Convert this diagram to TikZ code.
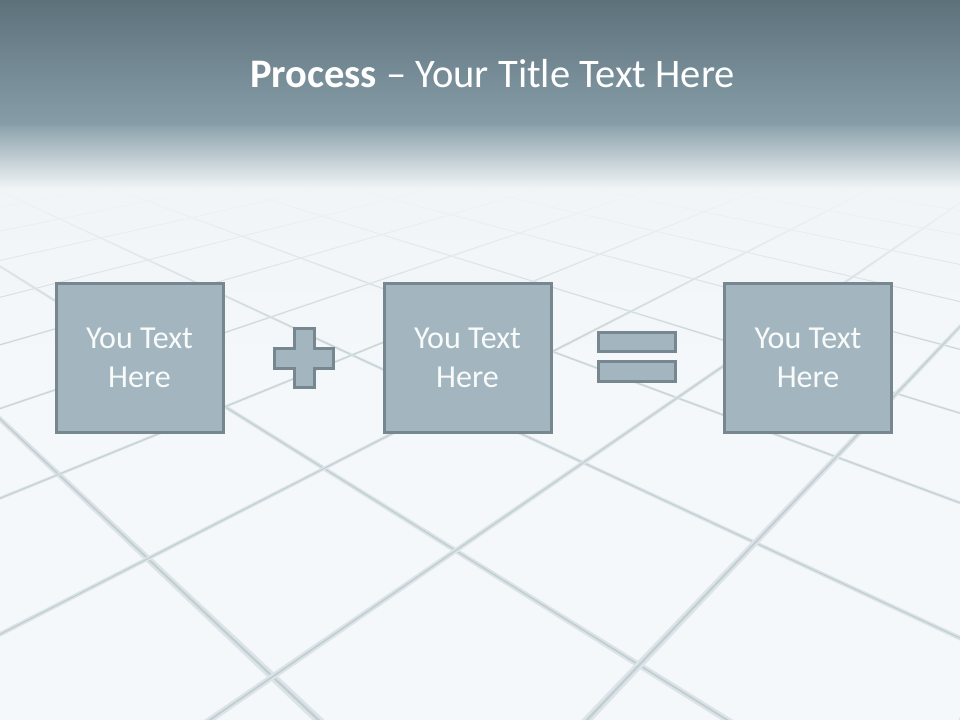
\documentclass[tikz,border=0pt]{standalone}
\usepackage{fontspec}
\setmainfont{Carlito}
\usetikzlibrary{fadings}
\definecolor{tilebg}{HTML}{F4F8FA}
\definecolor{groutlight}{HTML}{DCE4E8}
\definecolor{groutdark}{HTML}{C3CED3}
\definecolor{fogc}{HTML}{F1F5F7}
\definecolor{bantop}{HTML}{5D717B}
\definecolor{banbot}{HTML}{879EA9}
\definecolor{fadetop}{HTML}{8CA2AC}
\definecolor{boxfill}{HTML}{A3B6BF}
\definecolor{boxline}{HTML}{76878F}
\tikzfading[name=fogfade, top color=transparent!0, bottom color=transparent!100]
\begin{document}
\begin{tikzpicture}[x=0.75pt,y=-0.75pt,
  declare function={ax(\u,\y)=-475+(0.513+0.545*\u)*(\y+30); bx(\v,\y)=1298+(-2.96+0.503*\v)*(\y+30);},
  procbox/.style={draw=boxline, fill=boxfill, line width=2.25pt, minimum width=125.25pt, minimum height=111pt, inner sep=0pt, align=center, text=white!94!boxfill, font=\fontsize{24}{28.8}\selectfont},
  opshape/.style={draw=boxline, fill=boxfill, line width=2.25pt}]
\useasboundingbox (0,0) rectangle (960,720);
\fill[tilebg] (0,0) rectangle (960,720);
\begin{scope}
\clip (0,0) rectangle (960,720);
\foreach \u in {1,...,26}{
  \fill[groutlight] ({ax(\u-0.015,110)},110) -- ({ax(\u+0.015,110)},110) -- ({ax(\u+0.015,740)},740) -- ({ax(\u-0.015,740)},740) -- cycle;
  \fill[groutdark] ({ax(\u-0.0045,110)},110) -- ({ax(\u+0.0045,110)},110) -- ({ax(\u+0.0045,740)},740) -- ({ax(\u-0.0045,740)},740) -- cycle;
}
\foreach \v in {-20,...,5}{
  \fill[groutlight] ({bx(\v-0.015,110)},110) -- ({bx(\v+0.015,110)},110) -- ({bx(\v+0.015,740)},740) -- ({bx(\v-0.015,740)},740) -- cycle;
  \fill[groutdark] ({bx(\v-0.0045,110)},110) -- ({bx(\v+0.0045,110)},110) -- ({bx(\v+0.0045,740)},740) -- ({bx(\v-0.0045,740)},740) -- cycle;
}
\end{scope}
\fill[fogc, path fading=fogfade] (0,188) rectangle (960,345);
\shade[top color=fadetop, bottom color=fogc] (0,125) rectangle (960,189);
\shade[top color=bantop, bottom color=banbot] (0,0) rectangle (960,126);
\node[anchor=base, text=white, font=\fontsize{30.4}{36}\selectfont] (title) at (492.5,87.5) {\textbf{Process} – Your Title Text Here};
\node[procbox] (b1) at (139.5,358) {You Text\\Here};
\node[procbox] (b2) at (467.5,358) {You Text\\Here};
\node[procbox] (b3) at (808,358) {You Text\\Here};
\draw[opshape] (294,328.5) -- (314,328.5) -- (314,348) -- (333.5,348) -- (333.5,368) -- (314,368) -- (314,387.5) -- (294,387.5) -- (294,368) -- (274.5,368) -- (274.5,348) -- (294,348) -- cycle;
\draw[opshape] (598.5,332.5) rectangle (675.5,351.5);
\draw[opshape] (598.5,361.5) rectangle (675.5,381.5);
\end{tikzpicture}
\end{document}
